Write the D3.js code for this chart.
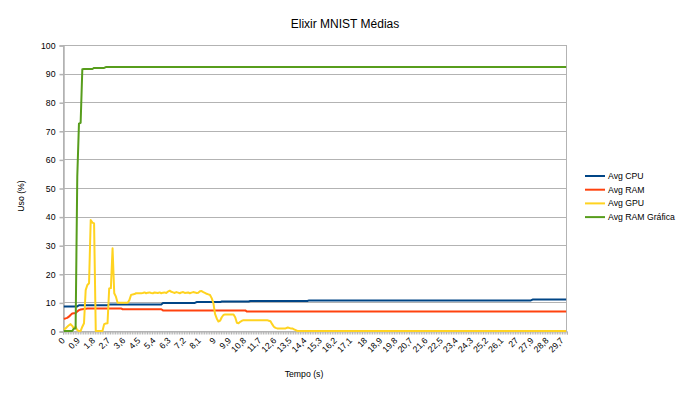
<!DOCTYPE html>
<html>
<head>
<meta charset="utf-8">
<script src="https://d3js.org/d3.v7.min.js"></script>
<style>
	body { margin: 0; background: #ffffff; }
	text { font-family: "Liberation Sans", Arial, sans-serif; }
</style>
</head>
<body>
<div id="chart"></div>
<script>
(function () {
	//Width and height
	var w = 690;
	var h = 393;

	//Plot area
	var plotLeft = 63;
	var plotRight = 567;
	var plotTop = 45;
	var plotBottom = 331;

	//Time axis: one sample every 0.1 s, a label every 9 samples
	var sampleCount = 300;
	var timeStep = 0.1;
	var labelEvery = 9;
	var yTicks = [0, 10, 20, 30, 40, 50, 60, 70, 80, 90, 100];

	var seriesNames = ["Avg CPU", "Avg RAM", "Avg GPU", "Avg RAM Gráfica"];
	var seriesColors = ["#004586", "#ff420e", "#ffd320", "#579d1c"];

	//Values, as [value, number of samples]
	var cpuRuns = [[8.6, 9], [9.0, 18], [9.3, 32], [9.8, 20], [10.1, 15], [10.3, 17], [10.5, 35], [10.7, 133], [11.0, 21]];

	var ramRuns = [[4.3, 1], [4.4, 1], [4.6, 1], [5.0, 1], [5.6, 1], [6.1, 1], [6.2, 1], [6.3, 1], [6.8, 1], [7.3, 1],
		[7.5, 1], [7.6, 1], [7.7, 1], [7.8, 1], [7.9, 21], [7.6, 24], [7.2, 50], [6.8, 191]];

	var gpuRuns = [[0.5, 1], [0.9, 1], [1.5, 1], [2.0, 1], [2.4, 1], [1.8, 1], [0.9, 1], [1.5, 1], [0.3, 1], [0, 2], [1.5, 1],
		[2.7, 1], [14.3, 1], [16.1, 1], [16.7, 1], [38.8, 1], [37.9, 1], [37.6, 1], [0, 5],
		[2.4, 1], [2.6, 1], [2.7, 1], [14.9, 1], [15.0, 1], [28.9, 1], [13.2, 1], [12.0, 1], [9.9, 7],
		[10.8, 1], [12.6, 1], [12.8, 1], [12.9, 1], [13.2, 4],
		[13.3, 1], [13.5, 1], [13.2, 1], [13.4, 1], [13.5, 1], [13.3, 1], [13.2, 1], [13.5, 1], [13.4, 1], [13.3, 1],
		[13.5, 1], [13.2, 1], [13.4, 1], [13.5, 1], [13.3, 1], [13.8, 1], [14.1, 1], [13.7, 1],
		[13.5, 1], [13.3, 1], [13.6, 1], [13.4, 1], [13.2, 1], [13.5, 1], [13.6, 1], [13.3, 1], [13.4, 1], [13.5, 1],
		[13.2, 1], [13.4, 1], [13.6, 1], [13.5, 1], [13.3, 1], [13.4, 1], [13.9, 1], [14.0, 1], [13.6, 1],
		[13.3, 1], [13.0, 1], [12.8, 1], [12.6, 1], [11.5, 1], [9.8, 1], [6.0, 1], [4.4, 1], [3.3, 1], [3.6, 1],
		[4.8, 1], [5.6, 1], [5.8, 6], [4.8, 1], [2.9, 1], [2.7, 1], [3.2, 1], [3.6, 1], [3.8, 15],
		[3.6, 1], [3.4, 1], [2.4, 1], [1.5, 1], [1.1, 1], [0.9, 6], [1.2, 1], [1.1, 1], [0.9, 2], [0.6, 1], [0.3, 1], [0, 161]];

	var gramRuns = [[0, 6], [0.9, 2], [54, 1], [72.5, 1], [72.8, 1], [91.5, 1], [91.6, 6], [92.0, 7], [92.3, 275]];

	//Turn the runs into one value per sample
	var expand = function (runs) {
		var out = [];
		runs.forEach(function (r) {
			for (var k = 0; k < r[1]; k++) {
				out.push(r[0]);
			}
		});
		return out;
	}

	var dataset = [expand(cpuRuns), expand(ramRuns), expand(gpuRuns), expand(gramRuns)];
	var indices = d3.range(sampleCount);

	var timeLabel = function (i) {
		return String(+(i * timeStep).toFixed(1)).replace(".", ",");
	}

	//Define scales
	var xScale = d3.scalePoint()
		.domain(indices)
		.range([plotLeft, plotRight])
		.padding(0.5);

	var binScale = d3.scaleLinear()
		.domain([0, sampleCount])
		.range([plotLeft, plotRight]);

	var yScale = d3.scaleLinear()
		.domain([0, 100])
		.range([plotBottom, plotTop]);

	//Create SVG element
	var svg = d3.select("#chart")
		.append("svg")
		.attr("width", w)
		.attr("height", h);

	svg.append("rect")
		.attr("width", w)
		.attr("height", h)
		.attr("fill", "#ffffff");

	//Gridlines
	svg.append("g")
		.selectAll("line")
		.data(yTicks)
		.enter()
		.append("line")
		.attr("x1", plotLeft)
		.attr("x2", plotRight)
		.attr("y1", function (d) { return Math.round(yScale(d)) + 0.5; })
		.attr("y2", function (d) { return Math.round(yScale(d)) + 0.5; })
		.attr("stroke", "#b3b3b3")
		.attr("stroke-width", 1);

	//Plot border
	svg.append("rect")
		.attr("x", plotLeft + 0.5)
		.attr("y", Math.round(plotTop) + 0.5)
		.attr("width", plotRight - plotLeft - 1)
		.attr("height", Math.round(plotBottom) - Math.round(plotTop))
		.attr("fill", "none")
		.attr("stroke", "#b3b3b3");

	//Y axis
	var yAxis = svg.append("g")
		.attr("transform", "translate(" + (plotLeft + 0.5) + ",0.5)")
		.call(d3.axisLeft(yScale).tickValues(yTicks).tickSize(4).tickPadding(4));
	yAxis.selectAll("path, line").attr("stroke", "#b3b3b3").attr("stroke-width", 1.5);
	yAxis.selectAll("text")
		.attr("font-size", "8.7px")
		.attr("font-family", "Liberation Sans, Arial, sans-serif")
		.attr("fill", "#000");

	//Small ticks between every sample
	var binAxis = svg.append("g")
		.attr("transform", "translate(0," + (plotBottom + 0.5) + ")")
		.call(d3.axisBottom(binScale).tickValues(d3.range(sampleCount + 1)).tickSize(3).tickFormat(""));
	binAxis.selectAll("path, line").attr("stroke", "#b3b3b3");

	//Time labels
	var xAxis = svg.append("g")
		.attr("transform", "translate(0," + plotBottom + ")")
		.call(d3.axisBottom(xScale)
			.tickValues(indices.filter(function (i) { return i % labelEvery == 0; }))
			.tickSize(0)
			.tickFormat(timeLabel));
	xAxis.select(".domain").remove();
	xAxis.selectAll("text")
		.attr("x", 0)
		.attr("y", 0)
		.attr("dy", 0)
		.attr("transform", "translate(1,10) rotate(-45)")
		.attr("text-anchor", "end")
		.attr("font-size", "8.7px")
		.attr("font-family", "Liberation Sans, Arial, sans-serif")
		.attr("fill", "#000");

	//Series lines
	var line = d3.line()
		.x(function (d, i) { return xScale(i); })
		.y(function (d) { return yScale(d); });

	svg.append("g")
		.selectAll("path")
		.data(dataset)
		.enter()
		.append("path")
		.attr("d", line)
		.attr("fill", "none")
		.attr("stroke", function (d, i) { return seriesColors[i]; })
		.attr("stroke-width", 2)
		.attr("stroke-linejoin", "round");

	//Legend
	var legend = svg.append("g")
		.selectAll("g")
		.data(seriesNames)
		.enter()
		.append("g")
		.attr("transform", function (d, i) {
			return "translate(585," + (176 + i * 13.7) + ")";
		});

	legend.append("line")
		.attr("x1", 0)
		.attr("x2", 20)
		.attr("stroke", function (d, i) { return seriesColors[i]; })
		.attr("stroke-width", 2);

	legend.append("text")
		.attr("x", 23)
		.attr("y", 3)
		.attr("font-size", "8.7px")
		.attr("fill", "#000")
		.text(function (d) { return d; });

	//Title
	svg.append("text")
		.attr("text-anchor", "middle")
		.attr("x", w / 2)
		.attr("y", 27.5)
		.attr("font-size", "12px")
		.attr("fill", "#000")
		.text("Elixir MNIST Médias");

	//Axis titles
	svg.append("text")
		.attr("text-anchor", "middle")
		.attr("x", 304)
		.attr("y", 377)
		.attr("font-size", "8.7px")
		.attr("fill", "#000")
		.text("Tempo (s)");

	svg.append("text")
		.attr("text-anchor", "middle")
		.attr("transform", "translate(24,196)rotate(-90)")
		.attr("font-size", "8.7px")
		.attr("fill", "#000")
		.text("Uso (%)");
})()
</script>
</body>
</html>
